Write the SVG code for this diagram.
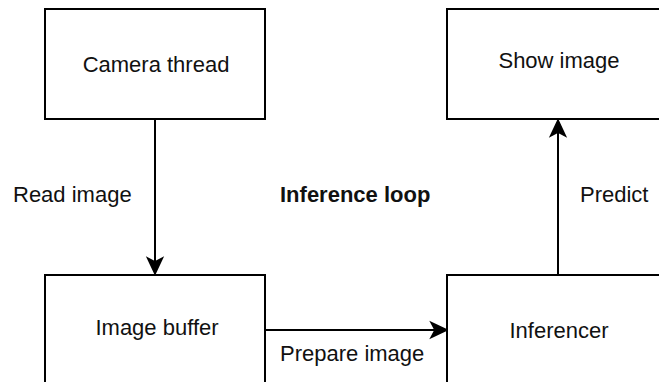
<svg xmlns="http://www.w3.org/2000/svg" width="659" height="382" viewBox="0 0 659 382">
<style>
.box{fill:#fff;stroke:#000;stroke-width:2}
.lbl{font-family:"Liberation Sans",Arial,sans-serif;font-size:22px;fill:#111}
.c{text-anchor:middle}
.edge{stroke:#000;stroke-width:2;fill:none}
.head{fill:#000;stroke:#000;stroke-width:1.5;stroke-linejoin:miter}
</style>
<rect width="659" height="382" fill="#fff"/>
<g id="connectors">
  <line class="edge" x1="155" y1="119" x2="155" y2="264"/>
  <path class="head" d="M155 274 L147.5 258 L155 262 L162.5 258 Z"/>
  <line class="edge" x1="265" y1="330" x2="437" y2="330"/>
  <path class="head" d="M447 330 L431 322.5 L435 330 L431 337.5 Z"/>
  <line class="edge" x1="558" y1="275" x2="558" y2="130"/>
  <path class="head" d="M558 120 L550.5 136 L558 132 L565.5 136 Z"/>
  <text class="lbl" x="13" y="202">Read image</text>
  <text class="lbl" x="580" y="202">Predict</text>
  <text class="lbl" x="280" y="361">Prepare image</text>
</g>
<g id="camera-thread">
  <rect class="box" x="45" y="9" width="220" height="110"/>
  <text class="lbl c" x="156" y="72">Camera thread</text>
</g>
<g id="show-image">
  <rect class="box" x="447" y="9" width="220" height="110"/>
  <text class="lbl c" x="559" y="68">Show image</text>
</g>
<g id="image-buffer">
  <rect class="box" x="45" y="275" width="220" height="120"/>
  <text class="lbl c" x="157" y="335">Image buffer</text>
</g>
<g id="inferencer">
  <rect class="box" x="447" y="275" width="220" height="120"/>
  <text class="lbl c" x="559" y="338">Inferencer</text>
</g>
<g id="inference-loop">
  <text class="lbl" x="280" y="202" font-weight="bold">Inference loop</text>
</g>
</svg>
